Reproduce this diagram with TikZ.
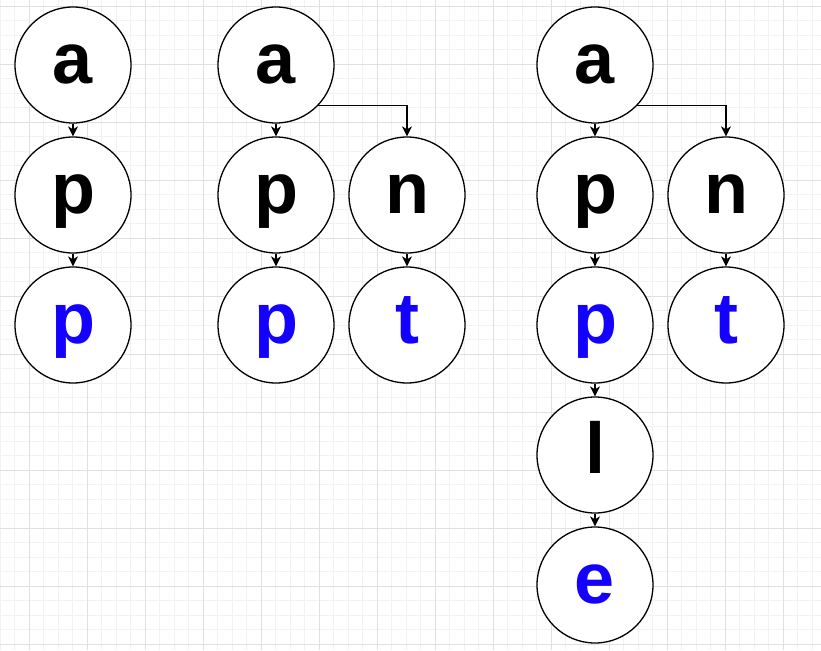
\documentclass[tikz,border=0pt]{standalone}
\usepackage{fontspec}
\setmainfont{Liberation Sans}
\usetikzlibrary{arrows.meta}
\definecolor{gridminor}{RGB}{242,242,242}
\definecolor{gridmajor}{RGB}{224,224,224}
\definecolor{letterblue}{RGB}{20,0,255}
\tikzset{
  minorline/.style={draw=gridminor,line width=0.8pt},
  majorline/.style={draw=gridmajor,line width=0.8pt},
  letter/.style={circle,draw=black,fill=white,line width=1.3pt,minimum size=116pt,inner sep=0pt,
    font=\fontsize{72}{72}\selectfont\bfseries,text height=37pt,text depth=0pt},
  bluel/.style={letter,text=letterblue},
  arr/.style={draw=black,line width=1.3pt,-{Stealth[length=10pt,width=10pt,inset=3pt]}}
}
\begin{document}
\begin{tikzpicture}[x=1pt,y=-1pt]
\useasboundingbox (0,0) rectangle (821,650);
\fill[white] (0,0) rectangle (821,650);
\foreach \i in {0,...,56} \draw[minorline] (\i*14.5,0) -- (\i*14.5,650);
\foreach \j in {0,...,44} \draw[minorline] (0,6+\j*14.5) -- (821,6+\j*14.5);
\foreach \k in {0,...,13} \draw[majorline] (29+\k*58,0) -- (29+\k*58,650);
\foreach \k in {0,...,11} \draw[majorline] (0,6+\k*58) -- (821,6+\k*58);
% column 1
\node[letter] (a1) at (73,65) {a};
\node[letter] (p1) at (73,195) {p};
\node[bluel] (q1) at (73,325) {p};
% column 2
\node[letter] (a2) at (276,65) {a};
\node[letter] (p2) at (276,195) {p};
\node[bluel] (q2) at (276,325) {p};
\node[letter] (n2) at (407,195) {n};
\node[bluel] (t2) at (407,325) {t};
% column 3
\node[letter] (a3) at (595,65) {a};
\node[letter] (p3) at (595,195) {p};
\node[bluel] (q3) at (595,325) {p};
\node[letter] (l3) at (595,455) {l};
\node[bluel] (e3) at (595,585) {e};
\node[letter] (n3) at (726,195) {n};
\node[bluel] (t3) at (726,325) {t};
% connectors
\draw[arr] (a1.south) -- (p1.north);
\draw[arr] (p1.south) -- (q1.north);
\draw[arr] (a2.south) -- (p2.north);
\draw[arr] (p2.south) -- (q2.north);
\draw[arr] (a2.-44) -| (n2.north);
\draw[arr] (n2.south) -- (t2.north);
\draw[arr] (a3.south) -- (p3.north);
\draw[arr] (p3.south) -- (q3.north);
\draw[arr] (q3.south) -- (l3.north);
\draw[arr] (l3.south) -- (e3.north);
\draw[arr] (a3.-44) -| (n3.north);
\draw[arr] (n3.south) -- (t3.north);
\end{tikzpicture}
\end{document}
